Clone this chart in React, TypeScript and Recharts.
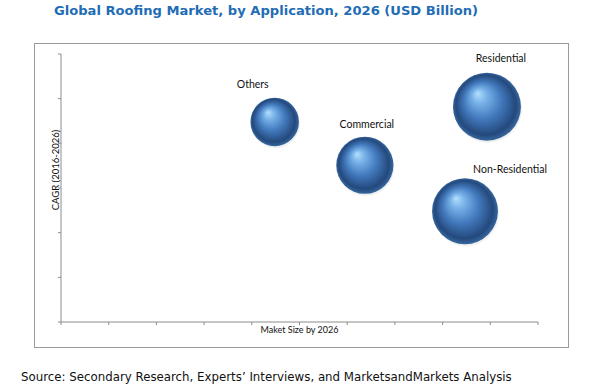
import React from 'react';
import { ScatterChart, Scatter, XAxis, YAxis, ZAxis } from 'recharts';

const applications = ['Others', 'Commercial', 'Residential', 'Non-Residential'];
const marketSize = [4.48, 6.37, 8.93, 8.47];
const cagr = [4.48, 3.51, 4.82, 2.48];
const bubbleSize = [5.9, 8.2, 11.6, 10.9];
const xTicks = [0, 1, 2, 3, 4, 5, 6, 7, 8, 9, 10];
const yTicks = [0, 1, 2, 3, 4, 5, 6];

const data = applications.map((name, i) => ({
  name,
  x: marketSize[i],
  y: cagr[i],
  z: bubbleSize[i],
}));

// where each label sits relative to its bubble (dx from centre, dy above top)
const labelPos: Record<string, [number, number]> = {
  Others: [-22, 10],
  Commercial: [2, 9],
  Residential: [14, 11],
  'Non-Residential': [45, 5],
};

const AXIS = '#8c8c8c';

const noTick = () => <g />;

function Sphere(props: any) {
  const { cx, cy, payload } = props;
  const r = props.width ? props.width / 2 : Math.sqrt((props.size || 0) / Math.PI);
  const id = 'sph-' + payload.name.replace(/[^a-z]/gi, '');
  const [dx, dy] = labelPos[payload.name] || [0, 8];
  return (
    <g>
      <defs>
        <radialGradient id={id} cx="50%" cy="50%" r="50%" fx="36%" fy="30%">
          <stop offset="0%" stopColor="#b3e0ff" />
          <stop offset="22%" stopColor="#78b2e8" />
          <stop offset="55%" stopColor="#4279bd" />
          <stop offset="88%" stopColor="#24497c" />
          <stop offset="100%" stopColor="#36679f" />
        </radialGradient>
      </defs>
      <circle cx={cx + 1} cy={cy + 2} r={r} fill="#000" opacity={0.06} />
      <circle cx={cx} cy={cy} r={r} fill={`url(#${id})`} />
      <text
        x={cx + dx}
        y={cy - r - dy}
        textAnchor="middle"
        fontFamily="Lato"
        fontSize={10.5}
        fill="#111"
      >
        {payload.name}
      </text>
    </g>
  );
}

export default function App() {
  return (
    <div style={{ position: 'fixed', left: 0, top: 0, width: 596, height: 389, background: '#fff' }}>
      <div
        style={{
          position: 'absolute', left: 0, width: 532, top: 3, textAlign: 'center',
          fontFamily: 'DejaVu Sans', fontWeight: 'bold', fontSize: 13.1, color: '#1f6db5',
        }}
      >
        Global Roofing Market, by Application, 2026 (USD Billion)
      </div>
      <div
        style={{
          position: 'absolute', left: 34, top: 43, width: 535, height: 305,
          border: '1px solid #9a9a9a', boxSizing: 'border-box',
        }}
      />
      <div style={{ position: 'absolute', left: 0, top: 0 }}>
        <ScatterChart width={596} height={389} margin={{ top: 54, right: 58, bottom: 66, left: 60 }}>
          <XAxis
            type="number" dataKey="x" domain={[0, 10]} ticks={xTicks} height={1}
            tick={noTick} tickSize={3} stroke={AXIS}
            label={{ value: 'Maket Size by 2026', position: 'bottom', offset: 4, fontFamily: 'Lato', fontSize: 9, fill: '#111' }}
          />
          <YAxis
            type="number" dataKey="y" domain={[0, 6]} ticks={yTicks} width={1}
            tick={noTick} tickSize={3} stroke={AXIS}
          />
          <ZAxis type="number" dataKey="z" domain={[0, 11.6]} range={[0, Math.PI * 34 * 34]} />
          <Scatter data={data} shape={Sphere} isAnimationActive={false} />
        </ScatterChart>
      </div>
      <div
        style={{
          position: 'absolute', left: 55, top: 170, transform: 'translate(-50%, -50%) rotate(-90deg)',
          fontFamily: 'Lato', fontSize: 9.5, color: '#111', whiteSpace: 'nowrap',
        }}
      >
        CAGR (2016-2026)
      </div>
      <div
        style={{
          position: 'absolute', left: 21, top: 370, fontFamily: 'DejaVu Sans', fontSize: 11.8,
          color: '#111', whiteSpace: 'nowrap',
        }}
      >
        Source: Secondary Research, Experts’ Interviews, and MarketsandMarkets Analysis
      </div>
    </div>
  );
}
